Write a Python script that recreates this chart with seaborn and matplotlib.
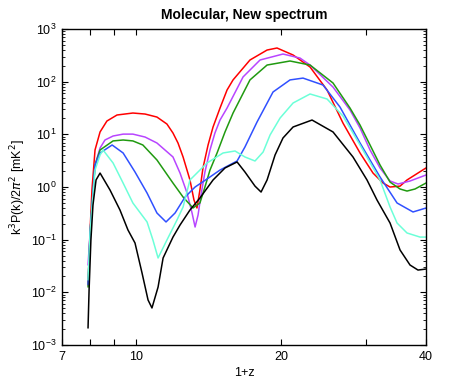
import matplotlib
matplotlib.use("Agg")

import numpy as np
import pandas as pd
import matplotlib.pyplot as plt
import matplotlib.ticker as mticker
import seaborn as sns

# valores: x = 1+z, y = k^3 P(k) / 2pi^2 [mK^2]
red_x = [7.93, 8.01, 8.08, 8.20, 8.40, 8.68, 9.11, 9.83, 10.42, 11.03, 11.57, 11.91,
         12.20, 12.50, 12.92, 13.17, 13.36, 13.55, 13.75, 14.09, 14.43, 14.92, 15.43,
         15.88, 17.22, 18.69, 19.60, 21.17, 22.96, 24.91, 26.88, 29.17, 31.04, 32.57,
         33.68, 35.33, 36.53, 40.0]
red_y = [0.0138, 0.153, 0.877, 5.05, 11.1, 17.9, 23.3, 25.4, 24.3, 21.3, 15.7, 10.6,
         6.85, 3.72, 1.36, 0.566, 0.40, 0.877, 2.30, 6.28, 13.8, 31.6, 69.5,
         108, 258, 399, 436, 321, 190, 69.5, 16.4, 4.43, 1.84, 1.19,
         1.0, 1.04, 1.36, 2.30]

mag_x = [7.93, 8.01, 8.20, 8.40, 8.60, 8.94, 9.38, 9.83, 10.42, 11.03, 11.91, 12.32,
         12.74, 13.05, 13.24, 13.43, 13.62, 13.88, 14.22, 14.56, 14.92, 15.43, 16.66,
         18.07, 20.17, 21.88, 22.96, 25.63, 27.80, 29.17, 30.60, 32.10, 33.68, 34.99,
         37.06, 40.0]
mag_y = [0.033, 0.14, 2.62, 5.5, 7.81, 9.3, 10.1, 10.1, 8.89, 6.85, 3.72, 1.84,
         0.769, 0.321, 0.174, 0.294, 0.705, 1.93, 5.05, 10.6, 18.7, 31.6, 123,
         258, 335, 281, 207, 79, 29.0, 13.2, 5.05, 2.30, 1.30, 1.14,
         1.30, 1.69]

grn_x = [7.93, 8.01, 8.20, 8.40, 8.94, 9.38, 9.83, 10.31, 11.03, 11.91, 12.50, 13.11,
         13.55, 13.88, 14.22, 14.71, 15.28, 15.88, 17.22, 18.69, 20.86, 22.96, 25.63,
         27.80, 29.17, 30.60, 32.10, 33.68, 35.33, 36.53, 37.96, 40.0]
grn_y = [0.0126, 0.14, 2.62, 5.05, 7.5, 7.81, 7.5, 6.28, 3.26, 1.19, 0.645, 0.40,
         0.497, 1.0, 2.10, 4.43, 11.1, 25.4, 108, 207, 247, 207, 94.4,
         31.6, 15.0, 6.28, 2.62, 1.24, 0.917, 0.838, 0.917, 1.19]

blu_x = [7.93, 8.01, 8.20, 8.40, 8.90, 9.38, 9.93, 10.52, 11.03, 11.52, 12.03, 12.62,
         13.24, 14.02, 14.92, 16.19, 16.81, 17.81, 19.23, 20.86, 22.20, 24.43, 26.50,
         29.17, 32.10, 34.83, 37.59, 40.0]
blu_y = [0.014, 0.14, 2.62, 4.43, 6.28, 4.43, 1.93, 0.769, 0.321, 0.217, 0.321, 0.645,
         1.0, 1.42, 2.10, 3.12, 5.75, 17.1, 63.7, 108, 117, 86.5, 33.0,
         6.85, 1.55, 0.497, 0.336, 0.399]

cya_x = [7.93, 8.01, 8.20, 8.40, 8.52, 8.94, 9.38, 9.83, 10.52, 10.82, 11.09, 11.57,
         12.14, 12.50, 12.92, 14.02, 15.14, 16.03, 16.81, 17.64, 18.34, 18.96, 19.89,
         21.17, 22.96, 24.91, 26.88, 29.17, 32.10, 33.68, 34.83, 36.53, 38.88, 40.0]
cya_y = [0.0172, 0.14, 2.10, 4.06, 5.05, 2.86, 1.19, 0.497, 0.217, 0.0986, 0.0449, 0.0986,
         0.236, 0.417, 1.36, 2.86, 4.43, 4.83, 3.72, 3.12, 4.62, 9.73, 20.4,
         39.4, 58.4, 46.9, 22.3, 6.28, 1.36, 0.417, 0.207, 0.134, 0.112, 0.112]

blk_x = [7.93, 7.97, 8.04, 8.12, 8.24, 8.40, 8.81, 9.24, 9.60, 9.93, 10.27, 10.57,
         10.77, 11.09, 11.36, 11.91, 12.32, 12.92, 13.55, 14.43, 15.28, 16.19, 16.81,
         17.64, 18.16, 18.69, 19.42, 20.17, 21.17, 23.18, 25.63, 28.2, 30.16, 31.64,
         33.68, 35.33, 37.06, 38.50, 40.0]
blk_y = [0.0021, 0.0111, 0.0986, 0.455, 1.36, 1.84, 0.877, 0.366, 0.153, 0.0865, 0.0233, 0.00716,
         0.00505, 0.0126, 0.0449, 0.112, 0.190, 0.366, 0.618, 1.36, 2.30, 2.99, 1.93,
         1.04, 0.803, 1.36, 4.06, 8.53, 13.8, 18.7, 11.1, 3.72, 1.36, 0.566,
         0.207, 0.0637, 0.0330, 0.0265, 0.0277]

SERIES = ["red", "magenta", "green", "blue", "cyan", "black"]
CORES = ["#ff0000", "#b845ff", "#209a10", "#3050ff", "#6cffd8", "#000000"]


def main():
    sns.set_theme(style="ticks")
    plt.rcParams["font.family"] = ["Liberation Sans", "DejaVu Sans"]
    plt.rcParams["text.color"] = "black"
    plt.rcParams["axes.labelcolor"] = "black"

    xs = [red_x, mag_x, grn_x, blu_x, cya_x, blk_x]
    ys = [red_y, mag_y, grn_y, blu_y, cya_y, blk_y]
    df = pd.concat([pd.DataFrame({"x": x, "y": y, "serie": s})
                    for x, y, s in zip(xs, ys, SERIES)], ignore_index=True)

    fig = plt.figure(figsize=(4.71, 3.89), dpi=100)
    ax = fig.add_axes([0.1316, 0.1131, 0.7728, 0.8123])

    sns.lineplot(data=df, x="x", y="y", hue="serie", hue_order=SERIES,
                 palette=CORES, sort=False, estimator=None, linewidth=1.1,
                 legend=False, ax=ax)

    ax.set_xscale("log")
    ax.set_yscale("log")
    ax.set_xlim(7, 40)
    ax.set_ylim(1e-3, 1e3)

    ax.xaxis.set_major_locator(mticker.FixedLocator([7, 10, 20, 40]))
    ax.xaxis.set_major_formatter(mticker.FixedFormatter(["7", "10", "20", "40"]))
    ax.xaxis.set_minor_locator(mticker.FixedLocator([8, 9, 30]))
    ax.xaxis.set_minor_formatter(mticker.NullFormatter())
    ax.yaxis.set_major_locator(mticker.LogLocator(base=10, numticks=10))
    ax.yaxis.set_minor_locator(mticker.LogLocator(base=10, subs=np.arange(2, 10), numticks=10))
    ax.yaxis.set_minor_formatter(mticker.NullFormatter())

    ax.tick_params(which="both", direction="in", top=True, right=True,
                   labelsize=9, pad=4, colors="black")
    ax.tick_params(which="major", length=4, width=0.8)
    ax.tick_params(which="minor", length=2.5, width=0.6)
    ax.tick_params(axis="x", which="minor", length=4, width=0.8)
    for sp in ax.spines.values():
        sp.set_visible(True)
        sp.set_color("black")
        sp.set_linewidth(1.0)

    ax.set_xlabel("1+z", fontsize=9, labelpad=3)
    ax.set_ylabel(r"k$^3$P(k)/2$\pi^2$ [mK$^2$]", fontsize=9, labelpad=2)
    ax.set_title("Molecular, New spectrum", fontsize=10, fontweight="bold", pad=7)

    fig.savefig("out.png", dpi=100)
    plt.close(fig)


if __name__ == "__main__":
    main()
